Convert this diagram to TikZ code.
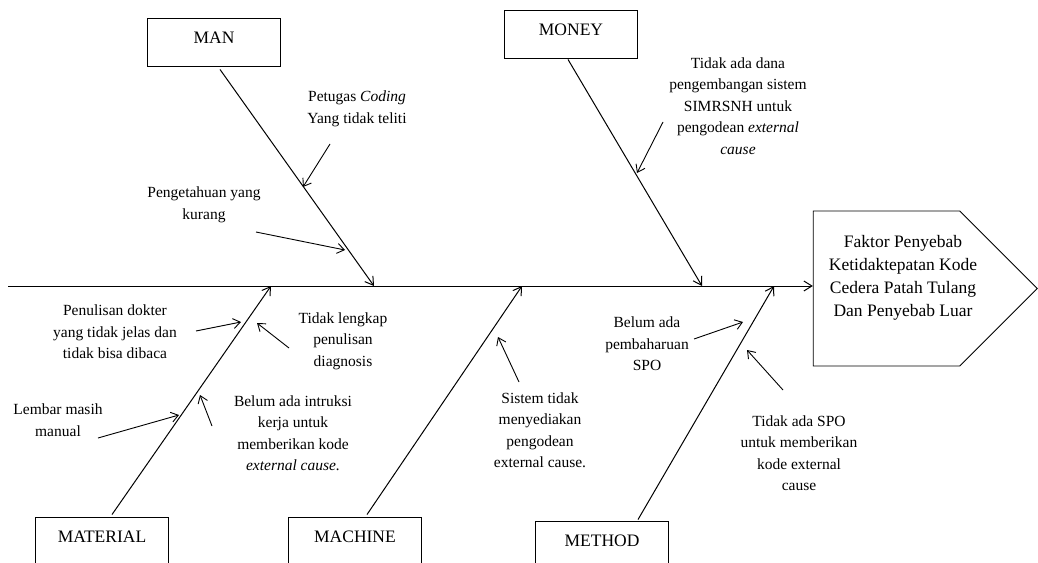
\documentclass[tikz,border=0pt]{standalone}
\usepackage{fontspec}
\setmainfont{Liberation Serif}
\usetikzlibrary{arrows.meta,calc,shapes.symbols}
\tikzset{
  catbox/.style={draw,line width=0.9pt,minimum width=133pt,inner sep=0pt,
    text height=25pt,text depth=23pt,font=\fontsize{17.5}{20}\selectfont},
  cause/.style={align=center,inner sep=0pt,font=\fontsize{15.5}{21.5}\selectfont},
  bone/.style={-{Straight Barb[length=8pt,width=10pt]},line width=1pt},
  arrow/.style={-{Straight Barb[length=7pt,width=10pt]},line width=0.9pt}
}

\begin{document}
\begin{tikzpicture}[x=1pt,y=-1pt]
  \clip (0,0) rectangle (1038,562);
  % category boxes
  \node[catbox] (man) at (214,42) {MAN};
  \node[catbox] (money) at (571,34) {MONEY};
  \node[catbox] (material) at (102,541) {MATERIAL};
  \node[catbox] (machine) at (355,541) {MACHINE};
  \node[catbox] (method) at (602,545) {METHOD};
  % head
  \node[draw,signal,signal to=east,signal pointer angle=90,line width=0.9pt,
    minimum width=224pt,minimum height=155pt] (head) at (886.5,288.5) {};
  \node[align=center,inner sep=0pt,font=\fontsize{17.5}{23}\selectfont] (headtext) at (903,278)
    {Faktor Penyebab\\Ketidaktepatan Kode\\Cedera Patah Tulang\\Dan Penyebab Luar};
  % spine and bones
  \coordinate (tail) at (8,286);
  \coordinate (manJ) at (374,286);
  \coordinate (moneyJ) at (702,286);
  \coordinate (materialJ) at (271,286);
  \coordinate (machineJ) at (522,286);
  \coordinate (methodJ) at (774,286);
  \draw[bone] (tail) -- (tail -| head.west);
  \draw[bone] ([xshift=6pt,yshift=-3pt]man.south) -- (manJ);
  \draw[bone] ([xshift=-3pt,yshift=-1pt]money.south) -- (moneyJ);
  \draw[bone] ([xshift=10pt,yshift=2pt]material.north) -- (materialJ);
  \draw[bone] ([xshift=12pt,yshift=2pt]machine.north) -- (machineJ);
  \draw[bone] ([xshift=36pt,yshift=1pt]method.north) -- (methodJ);
  % causes
  \node[cause] (petugas) at (357,109) {Petugas \textit{Coding}\\Yang tidak teliti};
  \node[cause] (pengetahuan) at (204,205) {Pengetahuan yang\\kurang};
  \node[cause] (dana) at (738,106) {Tidak ada dana\\pengembangan sistem\\SIMRSNH untuk\\pengodean \textit{external}\\\textit{cause}};
  \node[cause] (penulisan) at (115,332) {Penulisan dokter\\yang tidak jelas dan\\tidak bisa dibaca};
  \node[cause] (lengkap) at (343,341) {Tidak lengkap\\penulisan\\diagnosis};
  \node[cause] (lembar) at (58,420) {Lembar masih\\manual};
  \node[cause] (intruksi) at (293,433) {Belum ada intruksi\\kerja untuk\\memberikan kode\\\textit{external cause.}};
  \node[cause] (sistem) at (540,430) {Sistem tidak\\menyediakan\\pengodean\\external cause.};
  \node[cause] (pembaharuan) at (647,344) {Belum ada\\pembaharuan\\SPO};
  \node[cause] (tidakspo) at (799,453) {Tidak ada SPO\\untuk memberikan\\kode external\\cause};
  % cause arrows
  \coordinate (petugasT) at (330,144);   \coordinate (petugasH) at (303,187);
  \coordinate (pengetahuanT) at (256,232); \coordinate (pengetahuanH) at (345,250);
  \coordinate (danaT) at (663,122);      \coordinate (danaH) at (637,173);
  \coordinate (penulisanT) at (196,331); \coordinate (penulisanH) at (241,322);
  \coordinate (lengkapT) at (289,348);   \coordinate (lengkapH) at (257,323);
  \coordinate (lembarT) at (98,438);     \coordinate (lembarH) at (179,415);
  \coordinate (intruksiT) at (212,426);  \coordinate (intruksiH) at (200,395);
  \coordinate (sistemT) at (519,382);    \coordinate (sistemH) at (498,337);
  \coordinate (pembaharuanT) at (694,339); \coordinate (pembaharuanH) at (743,322);
  \coordinate (tidaksposT) at (783,390); \coordinate (tidaksposH) at (747,350);
  \draw[arrow] (petugasT) -- (petugasH);
  \draw[arrow] (pengetahuanT) -- (pengetahuanH);
  \draw[arrow] (danaT) -- (danaH);
  \draw[arrow] (penulisanT) -- (penulisanH);
  \draw[arrow] (lengkapT) -- (lengkapH);
  \draw[arrow] (lembarT) -- (lembarH);
  \draw[arrow] (intruksiT) -- (intruksiH);
  \draw[arrow] (sistemT) -- (sistemH);
  \draw[arrow] (pembaharuanT) -- (pembaharuanH);
  \draw[arrow] (tidaksposT) -- (tidaksposH);
\end{tikzpicture}
\end{document}
